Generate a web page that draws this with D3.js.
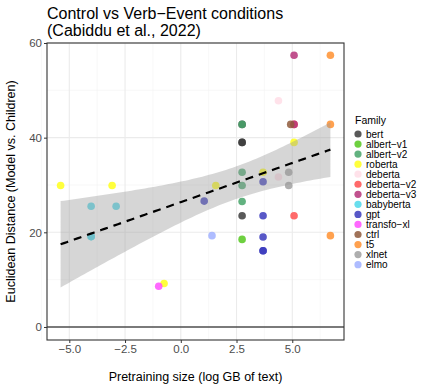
<!DOCTYPE html>
<html>
<head>
<meta charset="utf-8">
<script src="https://cdn.jsdelivr.net/npm/d3@7"></script>
<style>
  body { margin: 0; background: #fff; }
  text { font-family: "Liberation Sans", Arial, sans-serif; }
</style>
</head>
<body>
<div id="chart"></div>
<script>
// legend order + colours
const families = ["bert", "albert-v1", "albert-v2", "roberta", "deberta", "deberta-v2", "deberta-v3",
  "babyberta", "gpt", "transfo-xl", "ctrl", "t5", "xlnet", "elmo"];
const familyColors = ["#3c3c3c", "#55c81e", "#46a46a", "#ffff1a", "#ffdde6", "#ff5050", "#b6347a",
  "#4fd8ea", "#3b3bbd", "#ff4fff", "#8f5a3c", "#ff9030", "#a0a0a0", "#a0b0ff"];

// one entry per model: family, log GB of text, euclidean distance
const pointFamily = ["roberta", "roberta", "roberta", "roberta", "roberta", "roberta",
  "transfo-xl", "babyberta", "babyberta", "babyberta", "babyberta",
  "deberta-v3", "deberta-v2", "deberta-v3", "t5", "t5", "t5",
  "deberta", "deberta",
  "bert", "albert-v2", "bert", "bert", "bert",
  "albert-v2", "albert-v2", "albert-v2", "albert-v1",
  "ctrl", "xlnet", "xlnet",
  "gpt", "gpt", "gpt", "gpt", "gpt", "gpt",
  "deberta-v2", "elmo"];
const pointSize = [-5.39, -3.08, -0.75, 5.08, 3.69, 1.57,
  -0.99, -4.02, -2.90, -4.02, -4.02,
  5.08, 5.08, 5.08, 6.71, 6.71, 6.71,
  4.38, 4.38,
  2.75, 2.75, 2.75, 2.75, 2.75,
  2.75, 2.75, 2.75, 2.75,
  4.93, 4.84, 4.84,
  1.05, 3.69, 3.69, 3.69, 3.69, 3.69,
  5.08, 1.40];
const pointDist = [29.9, 29.9, 9.2, 39.0, 32.7, 29.9,
  8.6, 25.5, 25.5, 19.1, 19.1,
  57.4, 42.8, 42.8, 57.4, 42.8, 19.3,
  47.8, 31.7,
  42.8, 42.8, 39.0, 39.0, 23.5,
  32.7, 29.9, 26.5, 18.5,
  42.8, 32.7, 29.9,
  26.6, 30.7, 23.5, 19.0, 16.1, 16.1,
  23.5, 19.3];

const xTicks = [-5, -2.5, 0, 2.5, 5];
const xMinor = [-6.25, -3.75, -1.25, 1.25, 3.75, 6.25];
const yTicks = [0, 20, 40, 60];
const yMinor = [10, 30, 50];

const points = pointFamily.map((f, i) => ({ family: f, x: pointSize[i], y: pointDist[i] }));

const W = 422, H = 384;
const panel = { left: 47, right: 344, top: 43, bottom: 340 };

const svg = d3.select("#chart").append("svg").attr("width", W).attr("height", H);

const x = d3.scaleLinear().domain([-6.0, 7.32]).range([panel.left, panel.right]);
const y = d3.scaleLinear().domain([-2.75, 60]).range([panel.bottom, panel.top]);
const color = d3.scaleOrdinal().domain(families).range(familyColors);
const minus = s => s.replace(/-/g, "\u2212");

// grid
const grid = svg.append("g");
grid.selectAll(".xminor").data(xMinor).enter().append("line")
  .attr("x1", d => x(d)).attr("x2", d => x(d)).attr("y1", panel.top).attr("y2", panel.bottom)
  .attr("stroke", "#f3f3f3").attr("stroke-width", 0.6);
grid.selectAll(".yminor").data(yMinor).enter().append("line")
  .attr("y1", d => y(d)).attr("y2", d => y(d)).attr("x1", panel.left).attr("x2", panel.right)
  .attr("stroke", "#f3f3f3").attr("stroke-width", 0.6);
grid.selectAll(".xmajor").data(xTicks).enter().append("line")
  .attr("x1", d => x(d)).attr("x2", d => x(d)).attr("y1", panel.top).attr("y2", panel.bottom)
  .attr("stroke", "#ebebeb").attr("stroke-width", 1.1);
grid.selectAll(".ymajor").data(yTicks).enter().append("line")
  .attr("y1", d => y(d)).attr("y2", d => y(d)).attr("x1", panel.left).attr("x2", panel.right)
  .attr("stroke", "#ebebeb").attr("stroke-width", 1.1);

// hline at 0
svg.append("line")
  .attr("x1", panel.left).attr("x2", panel.right).attr("y1", y(0)).attr("y2", y(0))
  .attr("stroke", "#000").attr("stroke-width", 1.1);

// points
svg.append("g").selectAll("circle").data(points).enter().append("circle")
  .attr("cx", d => x(d.x)).attr("cy", d => y(d.y)).attr("r", 3.8)
  .attr("fill", d => color(d.family)).attr("fill-opacity", 0.85);

// linear fit with 95% CI (like geom_smooth(method = "lm"))
const n = points.length;
const mx = d3.mean(points, d => d.x), my = d3.mean(points, d => d.y);
const sxx = d3.sum(points, d => (d.x - mx) ** 2);
const sxy = d3.sum(points, d => (d.x - mx) * (d.y - my));
const slope = sxy / sxx, icept = my - slope * mx;
const sse = d3.sum(points, d => (d.y - icept - slope * d.x) ** 2);
const s = Math.sqrt(sse / (n - 2));
const tq = 2.026;
const [xlo, xhi] = d3.extent(points, d => d.x);
const steps = d3.range(0, 81).map(i => xlo + (xhi - xlo) * i / 80);
const fit = steps.map(v => {
  const f = icept + slope * v;
  const se = s * Math.sqrt(1 / n + (v - mx) ** 2 / sxx);
  return { x: v, f, lo: f - tq * se, hi: f + tq * se };
});

svg.append("path").datum(fit)
  .attr("d", d3.area().x(d => x(d.x)).y0(d => y(d.lo)).y1(d => y(d.hi)))
  .attr("fill", "#999").attr("fill-opacity", 0.4);
svg.append("path").datum(fit)
  .attr("d", d3.line().x(d => x(d.x)).y(d => y(d.f)))
  .attr("fill", "none").attr("stroke", "#000").attr("stroke-width", 2.2)
  .attr("stroke-dasharray", "8,6");

// panel border
svg.append("rect")
  .attr("x", panel.left).attr("y", panel.top)
  .attr("width", panel.right - panel.left).attr("height", panel.bottom - panel.top)
  .attr("fill", "none").attr("stroke", "#333").attr("stroke-width", 1.1);

// axes
const xAxis = svg.append("g").attr("transform", `translate(0,${panel.bottom})`)
  .call(d3.axisBottom(x).tickValues(xTicks).tickSize(3).tickPadding(2)
    .tickFormat(d => minus(d3.format(".1f")(d))));
const yAxis = svg.append("g").attr("transform", `translate(${panel.left},0)`)
  .call(d3.axisLeft(y).tickValues(yTicks).tickSize(3).tickPadding(2));
[xAxis, yAxis].forEach(a => {
  a.select(".domain").remove();
  a.selectAll(".tick line").attr("stroke", "#333");
  a.selectAll(".tick text").attr("fill", "#4d4d4d").style("font-size", "11.5px")
    .style("font-family", "Liberation Sans, Arial, sans-serif");
});

// titles
svg.append("text").attr("x", 47).attr("y", 19).attr("font-size", 16)
  .text("Control vs Verb\u2212Event conditions");
svg.append("text").attr("x", 47).attr("y", 36).attr("font-size", 16)
  .text("(Cabiddu et al., 2022)");
svg.append("text").attr("x", (panel.left + panel.right) / 2).attr("y", 381)
  .attr("text-anchor", "middle").attr("font-size", 12.5)
  .text("Pretraining size (log GB of text)");
svg.append("text")
  .attr("transform", `translate(15,${(panel.top + panel.bottom) / 2}) rotate(-90)`)
  .attr("text-anchor", "middle").attr("font-size", 12.5)
  .text("Euclidean Distance (Model vs. Children)");

// legend
const lg = svg.append("g").attr("transform", "translate(355,0)");
lg.append("text").attr("x", 0).attr("y", 124).attr("font-size", 10.5).text("Family");
const items = lg.selectAll(".item").data(families).enter().append("g")
  .attr("transform", (d, i) => `translate(0,${134 + i * 10.05})`);
items.append("circle").attr("cx", 3).attr("cy", 0).attr("r", 3.6)
  .attr("fill", d => color(d)).attr("fill-opacity", 0.85);
items.append("text").attr("x", 11).attr("y", 3.5).attr("font-size", 10).text(d => minus(d));
</script>
</body>
</html>
